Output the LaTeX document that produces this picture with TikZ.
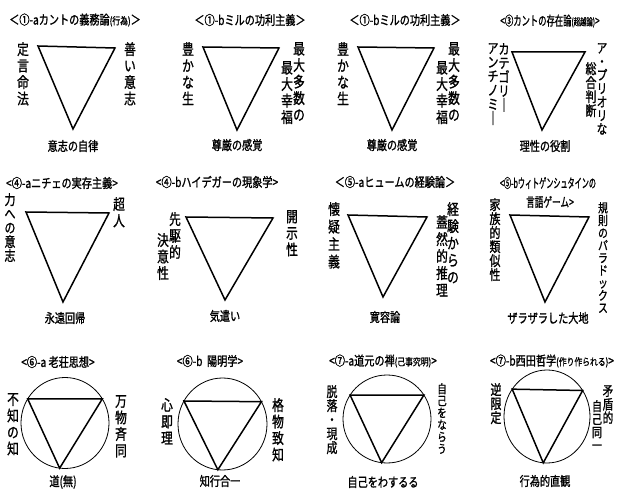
\documentclass[tikz,border=0pt]{standalone}
\usepackage{fontspec}
\usetikzlibrary{calc}
\newfontfamily\jp[FakeStretch=0.78,FakeBold=1.2]{Noto Sans CJK JP}
\newcommand\sm[1]{{\fontsize{10}{12}\selectfont #1}}
\newcommand\nar[2]{\scalebox{#1}[1]{#2}}

\begin{document}
\begin{tikzpicture}[x=1pt,y=-1pt,
  ttl/.style={font=\jp\fontsize{13}{15}\selectfont,inner sep=0pt},
  side/.style={font=\jp\fontsize{15}{#1}\selectfont,align=center,anchor=north,inner sep=0pt},
  side/.default=16.5,
  small/.style={font=\jp\fontsize{#1}{#1}\selectfont},
  foot/.style={font=\jp\fontsize{13}{15}\selectfont,inner sep=0pt},
  tri/.style={line width=1.5pt,line join=miter},
  ring/.style={line width=0.8pt}]
\useasboundingbox (0,0) rectangle (619,489);

% --- row 1
\node[ttl] (t1) at (75,20) {＜①-aカントの義務論\sm{(行為)}＞};
\coordinate (A1) at (38,46); \coordinate (B1) at (115,48); \coordinate (C1) at (73,129);
\draw[tri] (A1)--(B1)--(C1)--cycle;
\node[side] (l1) at (23,42) {定\\言\\命\\法};
\node[side] (r1) at (130,42) {善\\い\\意\\志};
\node[foot] (b1) at (73,146) {意志の自律};

\node[ttl] (t2) at (250,20) {＜①-bミルの功利主義＞};
\coordinate (A2) at (203,47); \coordinate (B2) at (279,48); \coordinate (C2) at (237,130);
\draw[tri] (A2)--(B2)--(C2)--cycle;
\node[side] (l2) at (188,42) {豊\\か\\な\\生};
\node[side] (r2a) at (299,42) {最\\大\\多\\数\\の};
\node[side] (r2b) at (287,61) {最\\大\\幸\\福};
\node[foot] (b2) at (237,145) {尊厳の感覚};

\node[ttl] (t3) at (405,20) {＜①-bミルの功利主義＞};
\coordinate (A3) at (358,47); \coordinate (B3) at (434,48); \coordinate (C3) at (392,130);
\draw[tri] (A3)--(B3)--(C3)--cycle;
\node[side] (l3) at (343,42) {豊\\か\\な\\生};
\node[side] (r3a) at (454,42) {最\\大\\多\\数\\の};
\node[side] (r3b) at (442,61) {最\\大\\幸\\福};
\node[foot] (b3) at (392,145) {尊厳の感覚};

\node[ttl] (t4) at (550,21) {\nar{0.82}{<③カントの存在論\sm{(超越論)}>}};
\coordinate (A4) at (512,52); \coordinate (B4) at (585,52); \coordinate (C4) at (542,130);
\draw[tri] (A4)--(B4)--(C4)--cycle;
\node[side=15.5,small=14] (l4a) at (504,43) {カ\\テ\\ゴ\\リ\\｜};
\node[side=14.5,small=14] (l4b) at (493,43) {ア\\ン\\チ\\ノ\\ミ\\｜};
\node[side=14,small=13.5] (r4a) at (602,43) {ア\\・\\プ\\リ\\オ\\リ\\な};
\node[side=15.5,small=14] (r4b) at (591,62) {総\\合\\判\\断};
\node[foot] (b4) at (545,146) {理性の役割};

% --- row 2
\node[ttl] (t5) at (62,183) {<④-aニチェの実存主義>};
\coordinate (A5) at (26,212); \coordinate (B5) at (109,213); \coordinate (C5) at (63,302);
\draw[tri] (A5)--(B5)--(C5)--cycle;
\node[side=14,small=14] (l5) at (10,193) {力\\へ\\の\\意\\志};
\node[side] (r5) at (119,197) {超\\人};
\node[foot] (b5) at (65,318) {永遠回帰};

\node[ttl] (t6) at (217,182) {<④-bハイデガーの現象学>};
\coordinate (A6) at (186,217); \coordinate (B6) at (273,218); \coordinate (C6) at (225,300);
\draw[tri] (A6)--(B6)--(C6)--cycle;
\node[side] (l6a) at (175,212) {先\\駆\\的};
\node[side] (l6b) at (163,233) {決\\意\\性};
\node[side] (r6) at (292,210) {開\\示\\性};
\node[foot] (b6) at (225,316) {気遣い};

\node[ttl] (t7) at (395,182) {＜⑤-aヒュームの経験論＞};
\coordinate (A7) at (348,215); \coordinate (B7) at (427,217); \coordinate (C7) at (383,297);
\draw[tri] (A7)--(B7)--(C7)--cycle;
\node[side=17.5] (l7) at (334,202) {懐\\疑\\主\\義};
\node[side=17] (r7a) at (453,202) {経\\験\\か\\ら\\の};
\node[side=17] (r7b) at (442,215) {蓋\\然\\的\\推\\理};
\node[foot] (b7) at (385,317) {寛容論};

\node[ttl] (t8a) at (548,183) {\nar{0.7}{<⑤-bウィトゲンシュタインの}};
\node[ttl] (t8b) at (550,202) {\nar{0.85}{言語ゲーム>}};
\coordinate (A8) at (510,215); \coordinate (B8) at (589,217); \coordinate (C8) at (545,302);
\draw[tri] (A8)--(B8)--(C8)--cycle;
\node[side=14.5,small=14] (l8) at (495,198) {家\\族\\的\\類\\似\\性};
\node[side=12.8,small=12.5] (r8) at (603,202) {規\\則\\の\\パ\\ラ\\ド\\ッ\\ク\\ス};
\node[foot] (b8) at (548,318) {ザラザラした大地};

% --- row 3
\node[ttl] (t9) at (58,362) {<⑥-a\ 老荘思想>};
\coordinate (O9) at (65,423);
\draw[ring] (O9) ellipse [x radius=44pt,y radius=45.5pt];
\path (O9) ++(148:44pt and 45.5pt) coordinate (A9)
      (O9) ++(32:44pt and 45.5pt) coordinate (B9)
      (O9) ++(263:44pt and 45.5pt) coordinate (C9);
\draw[tri] (A9)--(B9)--(C9)--cycle;
\node[side] (l9) at (13,393) {不\\知\\の\\知};
\node[side] (r9) at (121,395) {万\\物\\斉\\同};
\node[foot] (b9) at (63,482) {道(無)};

\node[ttl] (t10) at (210,361) {<⑥-b\ \ 陽明学>};
\coordinate (O10) at (222.5,424);
\draw[ring] (O10) ellipse [x radius=44.5pt,y radius=46pt];
\path (O10) ++(150:44.5pt and 46pt) coordinate (A10)
      (O10) ++(29:44.5pt and 46pt) coordinate (B10)
      (O10) ++(264:44.5pt and 46pt) coordinate (C10);
\draw[tri] (A10)--(B10)--(C10)--cycle;
\node[side] (l10) at (167,398) {心\\即\\理};
\node[side] (r10) at (278,398) {格\\物\\致\\知};
\node[foot] (b10) at (220,481) {知行合一};

\node[ttl] (t11) at (383,361) {<⑦-a道元の禅\sm{(己事究明)}>};
\coordinate (O11) at (387,419);
\draw[ring] (O11) ellipse [x radius=44pt,y radius=44pt];
\path (O11) ++(147:44pt) coordinate (A11)
      (O11) ++(33:44pt) coordinate (B11)
      (O11) ++(263:44pt) coordinate (C11);
\draw[tri] (A11)--(B11)--(C11)--cycle;
\node[side=14,small=14] (l11) at (332,385) {脱\\落\\・\\現\\成};
\node[side=12.5,small=12] (r11) at (442,383) {自\\己\\を\\な\\ら\\う};
\node[foot] (b11) at (383,482) {自己をわするる};

\node[ttl] (t12) at (552,361) {<⑦-b西田哲学\sm{(作り作られる)}>};
\coordinate (O12) at (547,416.5);
\draw[ring] (O12) ellipse [x radius=43pt,y radius=46.5pt];
\path (O12) ++(144:43pt and 46.5pt) coordinate (A12)
      (O12) ++(34:43pt and 46.5pt) coordinate (B12)
      (O12) ++(265:43pt and 46.5pt) coordinate (C12);
\draw[tri] (A12)--(B12)--(C12)--cycle;
\node[side=14.5,small=14] (l12) at (496,383) {逆\\限\\定};
\node[side=14,small=13.5] (r12a) at (608,385) {矛\\盾\\的};
\node[side=13.5,small=13] (r12b) at (597,400) {自\\己\\同\\一};
\node[foot] (b12) at (545,481) {行為的直観};
\end{tikzpicture}
\end{document}
